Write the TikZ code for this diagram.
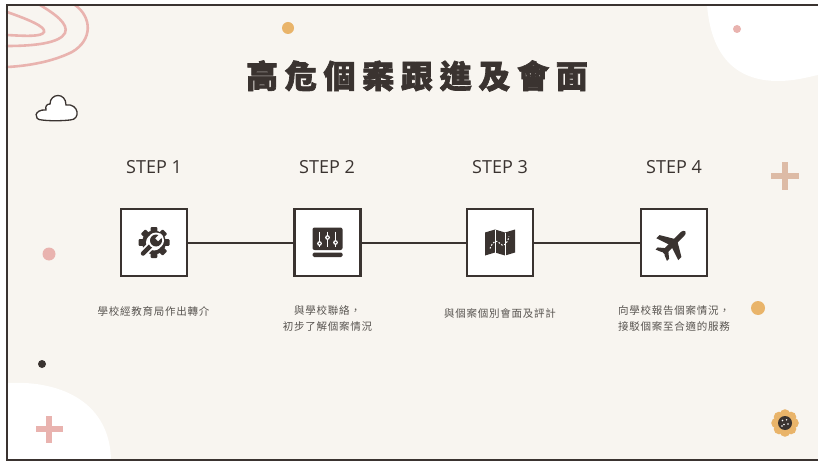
\documentclass[tikz,border=0pt]{standalone}
\usepackage{fontspec}
\setmainfont{Open Sans}
\newfontfamily\cjktitle[LetterSpace=21,FakeBold=2]{Noto Sans CJK TC}
\newfontfamily\cjkdesc[LetterSpace=7]{Noto Sans CJK TC}
\definecolor{bg}{HTML}{F8F5F0}
\definecolor{ink}{HTML}{3A3330}
\definecolor{pinkc}{HTML}{E9B3AF}
\definecolor{orangec}{HTML}{E9B46A}
\definecolor{tanc}{HTML}{DDBBA6}
\definecolor{descc}{HTML}{585450}
\tikzset{
  stepbox/.style={draw=ink, line width=2.5pt, fill=white, minimum width=66pt, minimum height=67pt, inner sep=0pt},
  steplabel/.style={text=ink, font=\fontsize{18}{20}\selectfont, inner sep=0pt},
  desc/.style={text=descc, font=\cjkdesc\fontsize{10.5}{16}\selectfont, align=center, inner sep=0pt},
  link/.style={draw=ink, line width=2pt},
  swirl/.style={draw=pinkc, line width=2.6pt, line cap=round},
}
\begin{document}
\begin{tikzpicture}[x=1pt,y=-1pt]
\useasboundingbox (0,0) rectangle (818,462);
\fill[white] (0,0) rectangle (818,462);
\fill[bg] (7,5) rectangle (818,460);

% white blobs in the corners
\fill[white] (707,5) .. controls (711,55) and (735,81) .. (778,81)
  .. controls (795,81) and (808,77) .. (818,75) -- (818,5) -- cycle;
\fill[white] (7,383) .. controls (65,380) and (110,405) .. (111,460) -- (7,460) -- cycle;

% pink swirl, top left
\draw[swirl] (7,12) .. controls (30,20) and (46,27) .. (44,32) .. controls (42,37) and (25,36) .. (7,35);
\draw[swirl] (40,5) .. controls (55,14) and (69,24) .. (65,33) .. controls (60,43) and (35,46) .. (7,46);
\draw[swirl] (75,5) .. controls (92,17) and (93,40) .. (72,52) .. controls (52,62) and (27,66) .. (7,67);

% cloud
\draw[ink, fill=white, line width=1.3pt]
  (42,120) .. controls (33,120) and (34,109) .. (46,110)
  .. controls (45,106) and (47,104) .. (50,104)
  .. controls (50,93) and (66,92) .. (66,105)
  .. controls (79,103) and (81,120) .. (70,120)
  .. controls (60,121) and (50,121) .. (42,120) -- cycle;

% dots and crosses
\fill[orangec] (288,28) circle (6pt);
\fill[pinkc] (737,29) circle (4pt);
\fill[pinkc] (49,254) circle (6.5pt);
\fill[orangec] (758,308) circle (7pt);
\fill[ink] (42,364) circle (4pt);
\fill[pinkc] (35.5,426) rectangle (62.5,432);
\fill[pinkc] (46,415.5) rectangle (52,442.5);
\fill[tanc] (771,173.2) rectangle (799,178.8);
\fill[tanc] (782.2,162) rectangle (787.8,190);

% sunflower
\foreach \a in {0,45,...,315}
  \fill[orangec] (785,423) ++(\a:8.5) circle (5.3pt);
\fill[orangec] (785,423) circle (9.5pt);
\fill[ink] (785,423) circle (7pt);
\foreach \p in {(782.5,420.5),(786.5,419.8),(784,424.5),(788,424),(782,426)}
  \fill[white] \p circle (0.8pt);

% frame
\draw[ink, line width=2.5pt] (818,5) -- (7,5) -- (7,460) -- (818,460);

% title
\node[text=ink, inner sep=0pt] (title) at (417,76)
  {\cjktitle\bfseries\fontsize{32}{36}\selectfont 高危個案跟進及會面};

% steps
\node[steplabel] (s1) at (154,167) {STEP 1};
\node[steplabel] (s2) at (327,167) {STEP 2};
\node[steplabel] (s3) at (500,167) {STEP 3};
\node[steplabel] (s4) at (674,167) {STEP 4};

\node[stepbox] (b1) at (154,242.5) {};
\node[stepbox] (b2) at (327.5,242.5) {};
\node[stepbox] (b3) at (500,242.5) {};
\node[stepbox] (b4) at (674,242.5) {};

\draw[link] (b1) -- (b2);
\draw[link] (b2) -- (b3);
\draw[link] (b3) -- (b4);

% icon: gear with wrench
\begin{scope}[shift={(b1.center)}]
  \fill[ink] (0,0) circle (12pt);
  \foreach \a in {0,45,...,315}
    \fill[ink, rotate=\a, rounded corners=1pt] (-3.3,-15.5) rectangle (3.3,0);
  \fill[white] (0,0) circle (8pt);
  \draw[white, line width=8pt, line cap=round] (1,-1) -- (-11,11);
  \draw[ink, line width=4.5pt, line cap=round] (1,-1) -- (-11,11);
  \fill[white] (2,-2) circle (8pt);
  \fill[ink] (2,-2) circle (6pt);
  \fill[white] (4.12,-1.3) -- (1.3,-4.12) -- (6.25,-9.07) -- (9.07,-6.25) -- cycle;
\end{scope}

% icon: slider panel
\begin{scope}[shift={(b2.center)}]
  \fill[ink, rounded corners=2pt] (-15,-15) rectangle (15,7.5);
  \fill[ink, rounded corners=1.5pt] (-15,10) rectangle (15,14.5);
  \foreach \x/\k in {-8/1,0/-5,8/0} {
    \draw[white, line width=1.2pt] (\x,-11) -- (\x,4);
    \fill[white] (\x,\k) circle (2.4pt);
    \fill[ink] (\x,\k) circle (1pt);
  }
\end{scope}

% icon: folded map
\begin{scope}[shift={(b3.center)}]
  \fill[ink] (-15,-10) -- (-5,-13) -- (5,-10) -- (15,-13) -- (15,10) -- (5,13) -- (-5,10) -- (-15,13) -- cycle;
  \draw[white, line width=1pt] (-5,-13) -- (-5,10);
  \draw[white, line width=1pt] (5,-10) -- (5,13);
  \draw[white, line width=1pt, dash pattern=on 1.6pt off 1.6pt]
    (-10,6) .. controls (-7,-2) and (-3,-3) .. (0,1) .. controls (3,5) and (7,2) .. (9,-6);
\end{scope}

% icon: airplane
\begin{scope}[shift={(b4.center)}, rotate=45]
  \fill[ink] (-15,-2.6) -- (11,-2.6) .. controls (17.5,-2.6) and (17.5,2.6) .. (11,2.6) -- (-15,2.6) -- cycle;
  \fill[ink] (3,-2) -- (-5,-15.5) -- (-9.5,-15.5) -- (-5,-2) -- cycle;
  \fill[ink] (3,2) -- (-5,15.5) -- (-9.5,15.5) -- (-5,2) -- cycle;
  \fill[ink] (-10,-2) -- (-15,-8) -- (-18,-8) -- (-15.5,-2) -- cycle;
  \fill[ink] (-10,2) -- (-15,8) -- (-18,8) -- (-15.5,2) -- cycle;
\end{scope}

% descriptions
\node[desc] (d1) at (153.5,311) {學校經教育局作出轉介};
\node[desc] (d2) at (327.5,319) {與學校聯絡，\\初步了解個案情況};
\node[desc] (d3) at (500,314) {與個案個別會面及評計};
\node[desc] (d4) at (674,318.5) {向學校報告個案情況，\\接駁個案至合適的服務};
\end{tikzpicture}
\end{document}
